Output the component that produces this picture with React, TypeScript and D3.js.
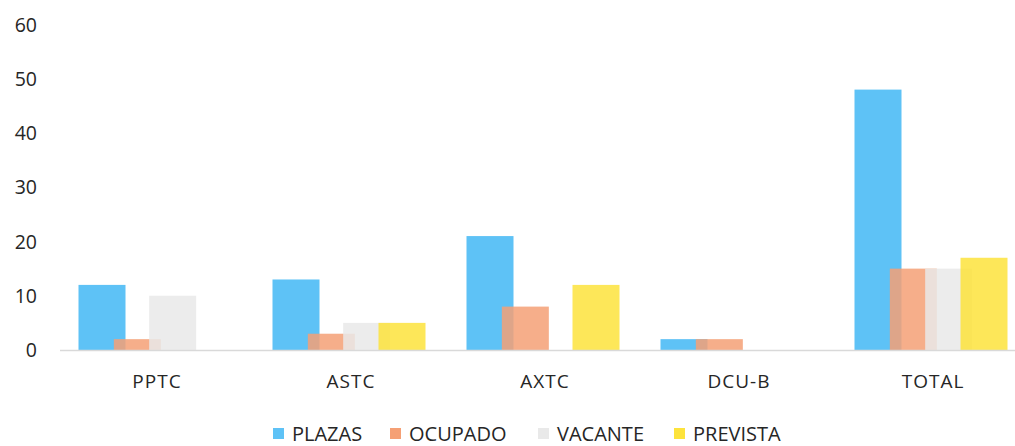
import * as d3 from 'd3';
import React, { useEffect, useRef } from 'react';

const categories = ['PPTC', 'ASTC', 'AXTC', 'DCU-B', 'TOTAL'];
const seriesNames = ['PLAZAS', 'OCUPADO', 'VACANTE', 'PREVISTA'];
const plazas = [12, 13, 21, 2, 48];
const ocupado = [2, 3, 8, 2, 15];
const vacante = [10, 5, 0, 0, 15];
const prevista = [0, 5, 12, 0, 17];
const yTicks = [0, 10, 20, 30, 40, 50, 60];
const colors = ['#5ec2f6', '#f5a075', '#e9e9e9', '#fde33c'];

export default function App() {
    const svgRef = useRef<SVGSVGElement | null>(null);
    const width = 1015;
    const height = 446;

    useEffect(() => {
        if (!svgRef.current) return;
        const svg = d3.select(svgRef.current);
        svg.selectAll('*').remove();

        const values = [plazas, ocupado, vacante, prevista];
        const font = "'Open Sans', 'Noto Sans', sans-serif";
        const textColor = '#262626';

        // outer bands, one per category
        const x = d3.scaleBand()
            .domain(categories)
            .range([58, 58 + 194 * categories.length])
            .padding(0);

        // bars overlap each other a bit, like the Excel original
        const barWidth = 47;
        const xInner = d3.scalePoint()
            .domain(seriesNames)
            .range([0, 106]);
        const groupOffset = (x.bandwidth() - (106 + barWidth)) / 2;

        const y = d3.scaleLinear()
            .domain([0, 60])
            .range([350, 24.5]);

        // y axis labels
        svg.append('g')
            .selectAll('text')
            .data(yTicks)
            .join('text')
            .attr('x', 37)
            .attr('y', d => y(d))
            .attr('dy', '0.36em')
            .attr('text-anchor', 'end')
            .attr('font-family', font)
            .attr('font-size', 19.5)
            .attr('fill', textColor)
            .text(d => d);

        // bars
        seriesNames.forEach((s, si) => {
            svg.append('g')
                .attr('fill', colors[si])
                .attr('fill-opacity', si === 0 ? 1 : 0.85)
                .selectAll('rect')
                .data(categories.map((c, ci) => ({ c, v: values[si][ci] })))
                .join('rect')
                .attr('x', d => (x(d.c) ?? 0) + groupOffset + (xInner(s) ?? 0))
                .attr('y', d => y(d.v))
                .attr('width', barWidth)
                .attr('height', d => y(0) - y(d.v));
        });

        // baseline
        svg.append('line')
            .attr('x1', 60)
            .attr('x2', width)
            .attr('y1', y(0) + 0.5)
            .attr('y2', y(0) + 0.5)
            .attr('stroke', '#d9d9d9')
            .attr('stroke-width', 1.5);

        // category labels
        svg.append('g')
            .selectAll('text')
            .data(categories)
            .join('text')
            .attr('x', d => (x(d) ?? 0) + x.bandwidth() / 2 + 2)
            .attr('y', 388)
            .attr('text-anchor', 'middle')
            .attr('font-family', font)
            .attr('font-size', 19)
            .attr('fill', textColor)
            .attr('letter-spacing', 1)
            .text(d => d);

        // legend
        const legendX = [273, 390, 538, 674];
        const legend = svg.append('g')
            .selectAll('g')
            .data(seriesNames)
            .join('g')
            .attr('transform', (d, i) => `translate(${legendX[i]},0)`);
        legend.append('rect')
            .attr('y', 428)
            .attr('width', 11)
            .attr('height', 11)
            .attr('fill', (d, i) => colors[i]);
        legend.append('text')
            .attr('x', 19)
            .attr('y', 441)
            .attr('font-family', font)
            .attr('font-size', 20)
            .attr('fill', textColor)
            .text(d => d);
    }, []);

    return (
        <div style={{ position: 'absolute', left: 0, top: 0, width, height, background: '#fff' }}>
            <svg ref={svgRef} width={width} height={height} style={{ display: 'block' }}></svg>
        </div>
    );
}
